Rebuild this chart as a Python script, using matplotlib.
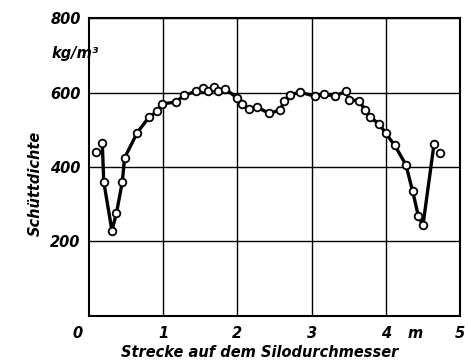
import matplotlib
matplotlib.use("Agg")
import matplotlib.pyplot as plt
from matplotlib.transforms import blended_transform_factory

# Data
x_m = [0.09, 0.18, 0.20, 0.31, 0.37, 0.45, 0.48, 0.65, 0.81, 0.92, 0.99, 1.17,
       1.28, 1.44, 1.54, 1.61, 1.68, 1.74, 1.84, 2.00, 2.06, 2.16, 2.27, 2.43,
       2.58, 2.63, 2.71, 2.85, 3.04, 3.17, 3.31, 3.46, 3.51, 3.64, 3.72, 3.79,
       3.91, 4.00, 4.12, 4.27, 4.36, 4.44, 4.50, 4.65, 4.73]
dichte = [440, 464, 360, 229, 275, 360, 424, 492, 534, 549, 570, 574,
          592, 603, 611, 605, 616, 605, 609, 585, 568, 555, 560, 544,
          553, 578, 594, 601, 590, 596, 590, 603, 581, 577, 554, 533,
          516, 490, 458, 406, 336, 267, 243, 462, 437]

x_ticks = [1, 2, 3, 4, 5]
x_ticklabels = ["1", "2", "3", "4", "5"]
y_ticks = [200, 400, 600, 800]
y_ticklabels = ["200", "400", "600", "800"]

font = dict(family="DejaVu Sans", style="italic", weight="bold")

fig = plt.figure(figsize=(4.68, 3.61), dpi=100)
ax = fig.add_axes([0.190, 0.125, 0.793, 0.825])

ax.set_xlim(0, 5)
ax.set_ylim(0, 800)
ax.set_xticks(x_ticks)
ax.set_xticklabels(x_ticklabels, fontsize=10.5, **font)
ax.set_yticks(y_ticks)
ax.set_yticklabels(y_ticklabels, fontsize=10.5, **font)
ax.tick_params(axis="both", length=0)
ax.tick_params(axis="x", pad=7)
ax.tick_params(axis="y", pad=6)
ax.grid(True, color="black", linewidth=1.0)
ax.set_axisbelow(True)
for s in ax.spines.values():
    s.set_linewidth(1.5)
    s.set_color("black")

# thick curve (excluding the isolated edge points)
ax.plot(x_m[1:-1], dichte[1:-1], color="black", linewidth=2.4, zorder=3,
        solid_joinstyle="round")
ax.plot(x_m, dichte, linestyle="none", marker="o", markersize=5.5,
        markerfacecolor="white", markeredgecolor="black",
        markeredgewidth=1.3, zorder=4)

# extra labels
trans_x = blended_transform_factory(ax.transData, ax.transAxes)
ax.text(-0.16, -0.035, "0", transform=trans_x, ha="center", va="top",
        fontsize=10.5, clip_on=False, **font)
ax.text(4.4, -0.035, "m", transform=trans_x, ha="center", va="top",
        fontsize=10.5, clip_on=False, **font)
trans_y = blended_transform_factory(ax.transAxes, ax.transData)
ax.text(-0.10, 705, "kg/m³", transform=trans_y, ha="left", va="center",
        fontsize=10.5, clip_on=False, **font)

fig.text(0.555, 1 - 357 / 361, "Strecke auf dem Silodurchmesser", ha="center",
         va="baseline", fontsize=10.5, **font)
fig.text(0.075, 1 - 183 / 361, "Schüttdichte", ha="center", va="center",
         rotation=90, fontsize=10.5, **font)

fig.savefig("out.png", dpi=100)
